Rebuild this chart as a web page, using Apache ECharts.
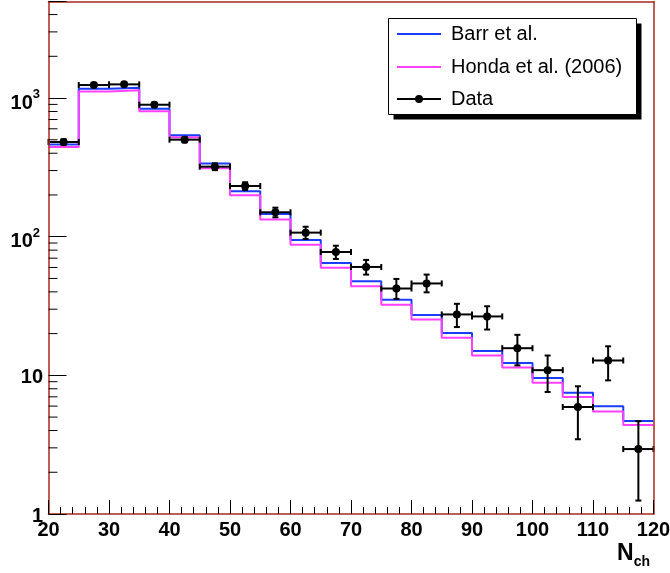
<!DOCTYPE html>
<html>
<head>
<meta charset="utf-8">
<script src="https://cdn.jsdelivr.net/npm/echarts@6/dist/echarts.min.js"></script>
<style>
  html, body { margin: 0; padding: 0; background: #fff; }
  #chart { width: 670px; height: 573px; }
</style>
</head>
<body>
<div id="chart"></div>
<script>
// Charged-particle multiplicity: two simulated histograms and measured counts.
const binLow = [20, 25, 30, 35, 40, 45, 50, 55, 60, 65, 70, 75, 80, 85, 90, 95, 100, 105, 110, 115];
const binWidth = 5;

const barr  = [463, 1167, 1187, 838, 540, 337, 213, 146, 94.7, 64.7, 47.7, 35.1, 27.2, 20.2, 15.0, 12.3, 9.56, 7.50, 5.98, 4.69];
const honda = [444, 1117, 1136, 802, 521, 312, 199, 133, 87.6, 59.8, 43.9, 32.3, 25.3, 18.7, 13.9, 11.4, 8.86, 6.98, 5.48, 4.39];

const dataCounts = [482, 1241, 1255, 895, 501, 320, 232, 150, 107, 77.6, 60.5, 42.3, 46.0, 27.5, 26.6, 15.7, 10.9, 5.91, 12.8, 2.94];
const dataLow    = [460, 1206, 1220, 865, 479, 302, 217, 138, 96.3, 69.1, 53.3, 35.6, 39.7, 22.3, 21.4, 11.8, 7.59, 3.46, 9.2, 1.25];
const dataHigh   = [504, 1276, 1290, 925, 523, 338, 247, 162, 118, 86.1, 68.0, 49.6, 53.3, 32.8, 31.5, 19.6, 13.9, 8.34, 16.2, 4.67];

const seriesNames = ['Barr et al.', 'Honda et al. (2006)', 'Data'];
const seriesColors = ['#1a3dff', '#ff40ff', '#000000'];

// Log axis decades and their labels (base + exponent)
const yMajorTicks = [1, 10, 100, 1000];
const yLabelBase  = ['1', '10', '10', '10'];
const yLabelExp   = ['', '', '2', '3'];
const yMinorTicks = [2, 3, 4, 5, 6, 7, 8, 9, 20, 30, 40, 50, 60, 70, 80, 90,
                     200, 300, 400, 500, 600, 700, 800, 900, 2000, 3000, 4000];

// Axis title: N with subscript "ch"
const xTitleMain = 'N';
const xTitleSub = 'ch';

const X_MIN = 20, X_MAX = 120, Y_MIN = 1, Y_MAX = 4970;
const FONT = "'Liberation Sans', Arial, Helvetica, sans-serif";
const FRAME = '#a8281c';

function stepPoints(values) {
  const pts = [];
  values.forEach((v, i) => {
    pts.push([binLow[i], v]);
    pts.push([binLow[i] + binWidth, v]);
  });
  return pts;
}

const errorData = dataCounts.map((v, i) => [binLow[i] + binWidth / 2, v, dataLow[i], dataHigh[i]]);

function renderErrorPoint(params, api) {
  const x = api.value(0), y = api.value(1), lo = api.value(2), hi = api.value(3);
  const half = binWidth / 2;
  const c = api.coord([x, y]);
  const l = api.coord([x - half, y]);
  const r = api.coord([x + half, y]);
  const t = api.coord([x, hi]);
  const b = api.coord([x, lo]);
  const cap = 3;
  const st = { stroke: '#000', lineWidth: 2 };
  const line = (x1, y1, x2, y2) => ({ type: 'line', shape: { x1, y1, x2, y2 }, style: st });
  return {
    type: 'group',
    children: [
      line(l[0], l[1], r[0], r[1]),
      line(l[0], l[1] - cap, l[0], l[1] + cap),
      line(r[0], r[1] - cap, r[0], r[1] + cap),
      line(t[0], t[1], b[0], b[1]),
      line(t[0] - cap, t[1], t[0] + cap, t[1]),
      line(b[0] - cap, b[1], b[0] + cap, b[1]),
      { type: 'circle', shape: { cx: c[0], cy: c[1], r: 4 }, style: { fill: '#000' } }
    ]
  };
}

// Short inward ticks at 2..9 of each decade on the left axis
function renderMinorTick(params, api) {
  const p = api.coord([X_MIN, api.value(1)]);
  return {
    type: 'line',
    shape: { x1: p[0], y1: p[1], x2: p[0] + 9, y2: p[1] },
    style: { stroke: '#000', lineWidth: 1 }
  };
}

// Legend box with drop shadow
const legendX = 388.5, legendY = 18.5, legendW = 248, legendH = 96;
const legendRows = [34, 67, 99];
const legendGraphic = [
  { type: 'rect', shape: { x: legendX + 5, y: legendY + 5, width: legendW, height: legendH }, style: { fill: '#000' }, z: 100 },
  { type: 'rect', shape: { x: legendX, y: legendY, width: legendW, height: legendH }, style: { fill: '#fff', stroke: '#000', lineWidth: 1 }, z: 101 }
];
seriesNames.forEach((name, i) => {
  const yy = legendRows[i];
  legendGraphic.push({ type: 'line', shape: { x1: 397, y1: yy, x2: 441, y2: yy }, style: { stroke: seriesColors[i], lineWidth: 2 }, z: 102 });
  if (i === 2) {
    legendGraphic.push({ type: 'circle', shape: { cx: 419, cy: yy, r: 4 }, style: { fill: '#000' }, z: 103 });
  }
  legendGraphic.push({
    type: 'text', x: 451, y: yy, z: 102,
    style: { text: name, font: '20px ' + FONT, fill: '#000', verticalAlign: 'middle' }
  });
});

const frameAxisLine = { show: true, onZero: false, lineStyle: { color: FRAME, width: 1.5 } };

const chart = echarts.init(document.getElementById('chart'), null, { renderer: 'canvas' });

chart.setOption({
  animation: false,
  backgroundColor: '#fff',
  textStyle: { fontFamily: FONT },
  title: {
    text: '{n|' + xTitleMain + '}{c|' + xTitleSub + '}',
    right: 20, top: 545, padding: 0, itemGap: 0,
    textStyle: {
      rich: {
        n: { fontSize: 23, fontWeight: 'bold', fontFamily: FONT, color: '#000', lineHeight: 23, padding: [0, 0, 6, 0] },
        c: { fontSize: 14, fontWeight: 'bold', fontFamily: FONT, color: '#000', lineHeight: 14, padding: [13, 0, 2, 0] }
      }
    }
  },
  grid: {
    left: 48.5, right: 16.5, top: 1.5, bottom: 59,
    containLabel: false, outerBoundsMode: 'none', show: false
  },
  xAxis: [{
    type: 'value',
    min: X_MIN, max: X_MAX, interval: 10,
    z: 10,
    axisLine: frameAxisLine,
    axisTick: { show: true, inside: true, length: 14, lineStyle: { color: '#000', width: 1 } },
    minorTick: { show: true, splitNumber: 5, length: 7, lineStyle: { color: '#000', width: 1 } },
    splitLine: { show: false },
    minorSplitLine: { show: false },
    axisLabel: { color: '#000', fontSize: 20, fontWeight: 'bold', fontFamily: FONT, margin: 6 }
  }, {
    type: 'value', position: 'top',
    min: X_MIN, max: X_MAX, z: 10,
    axisLine: frameAxisLine,
    axisTick: { show: false }, axisLabel: { show: false }, splitLine: { show: false }
  }],
  yAxis: [{
    type: 'log',
    logBase: 10,
    min: Y_MIN, max: Y_MAX,
    z: 10,
    axisLine: frameAxisLine,
    axisTick: { show: true, inside: true, length: 18, lineStyle: { color: '#000', width: 1 } },
    splitLine: { show: false },
    axisLabel: {
      color: '#000', margin: 5.5,
      formatter: function (v) {
        const k = yMajorTicks.findIndex(t => Math.abs(t - v) < 1e-6 * t);
        if (k < 0) return '';
        if (yLabelExp[k]) return '{b|' + yLabelBase[k] + '}{s|' + yLabelExp[k] + '}';
        return '{p|' + yLabelBase[k] + '}';
      },
      rich: {
        p: { fontSize: 20, fontWeight: 'bold', fontFamily: FONT, color: '#000', lineHeight: 20, padding: [4, 0, 0, 0] },
        b: { fontSize: 20, fontWeight: 'bold', fontFamily: FONT, color: '#000', lineHeight: 20, padding: [10, 0, 0, 0] },
        s: { fontSize: 13, fontWeight: 'bold', fontFamily: FONT, color: '#000', lineHeight: 13, padding: [5, 3, 12, 0] }
      }
    }
  }, {
    type: 'log', logBase: 10, position: 'right',
    min: Y_MIN, max: Y_MAX, z: 10,
    axisLine: frameAxisLine,
    axisTick: { show: false }, axisLabel: { show: false }, splitLine: { show: false }
  }],
  series: [
    {
      name: seriesNames[0], type: 'line', data: stepPoints(barr),
      showSymbol: false, symbol: 'none', z: 3,
      lineStyle: { color: seriesColors[0], width: 2 }, itemStyle: { color: seriesColors[0] }
    },
    {
      name: seriesNames[1], type: 'line', data: stepPoints(honda),
      showSymbol: false, symbol: 'none', z: 4,
      lineStyle: { color: seriesColors[1], width: 2 }, itemStyle: { color: seriesColors[1] }
    },
    {
      name: seriesNames[2], type: 'custom', data: errorData, z: 5,
      encode: { x: 0, y: 1 },
      renderItem: renderErrorPoint, clip: false
    },
    {
      name: 'minor ticks', type: 'custom', silent: true, z: 11,
      data: yMinorTicks.map(v => [X_MIN, v]),
      encode: { x: 0, y: 1 },
      renderItem: renderMinorTick, clip: false
    }
  ],
  graphic: legendGraphic
});
</script>
</body>
</html>
